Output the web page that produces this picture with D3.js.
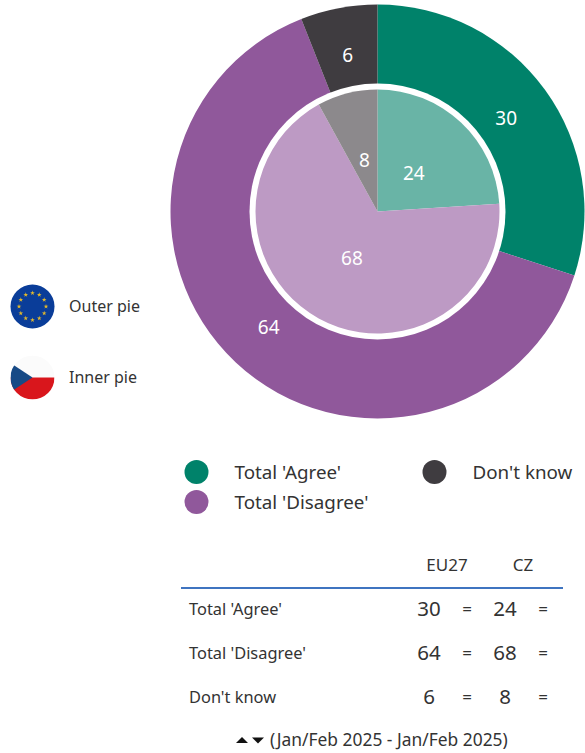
<!DOCTYPE html>
<html>
<head>
<meta charset="utf-8">
<script src="https://cdn.jsdelivr.net/npm/d3@7"></script>
<style>
  html, body { margin: 0; padding: 0; background: #fff; }
  text { font-family: "Noto Sans", sans-serif; fill: #333; }
</style>
</head>
<body>
<div id="chart"></div>
<script>
// Chart data
const categories = ["Total 'Agree'", "Total 'Disagree'", "Don't know"];
const eu27 = [30, 64, 6];
const cz = [24, 68, 8];
const changes = ["=", "=", "="];
const outerColors = ["#00826a", "#90589b", "#3f3c40"];
const innerColors = ["#69b4a6", "#bd9ac4", "#8c898c"];
const columns = ["EU27", "CZ"];
const pieNames = ["Outer pie", "Inner pie"];
const footnote = "(Jan/Feb 2025 - Jan/Feb 2025)";

const w = 585;
const h = 753;
const cx = 377.5; // pie centre
const cy = 211.5;

const svg = d3.select("#chart").append("svg").attr("width", w).attr("height", h).style("display", "block");

// Pies
const pie = d3.pie().sort(null);
const outerArc = d3.arc().innerRadius(0).outerRadius(207);
const innerArc = d3.arc().innerRadius(0).outerRadius(122);

const pies = svg.append("g").attr("transform", `translate(${cx},${cy})`);

pies.selectAll(".outer")
  .data(pie(eu27))
  .enter()
  .append("path")
  .attr("class", "outer")
  .attr("d", outerArc)
  .attr("fill", (d, i) => outerColors[i]);

pies.append("circle").attr("r", 128).attr("fill", "#fff");

pies.selectAll(".inner")
  .data(pie(cz))
  .enter()
  .append("path")
  .attr("class", "inner")
  .attr("d", innerArc)
  .attr("fill", (d, i) => innerColors[i]);

// Slice labels
const outerLabelArc = d3.arc().innerRadius(159).outerRadius(159);
const innerLabelArc = d3.arc().innerRadius(53).outerRadius(53);

pies.selectAll(".outer-label")
  .data(pie(eu27))
  .enter()
  .append("text")
  .attr("class", "outer-label")
  .attr("transform", (d) => `translate(${outerLabelArc.centroid(d)})`)
  .attr("text-anchor", "middle")
  .attr("dy", "0.36em")
  .style("fill", "#fff")
  .style("font-size", "19px")
  .text((d) => d.data);

pies.selectAll(".inner-label")
  .data(pie(cz))
  .enter()
  .append("text")
  .attr("class", "inner-label")
  .attr("transform", (d) => `translate(${innerLabelArc.centroid(d)})`)
  .attr("text-anchor", "middle")
  .attr("dy", "0.36em")
  .style("fill", "#fff")
  .style("font-size", "19px")
  .text((d) => d.data);

// EU flag
const euFlag = svg.append("g").attr("transform", "translate(32.5,306.5)");
euFlag.append("circle").attr("r", 22).attr("fill", "#0a3d99");
const star = d3.symbol().type(d3.symbolStar).size(7);
euFlag.selectAll("path")
  .data(d3.range(12))
  .enter()
  .append("path")
  .attr("d", star)
  .attr("fill", "#e3b92c")
  .attr("transform", (d) => {
    const a = (d * Math.PI) / 6;
    return `translate(${13.5 * Math.sin(a)},${-13.5 * Math.cos(a)})`;
  });

// Czech flag
const defs = svg.append("defs");
defs.append("clipPath").attr("id", "flagClip").append("circle").attr("r", 22);
const czFlag = svg.append("g").attr("transform", "translate(32.5,377.5)").attr("clip-path", "url(#flagClip)");
czFlag.append("rect").attr("x", -22).attr("y", -22).attr("width", 44).attr("height", 22).attr("fill", "#fbfbfb");
czFlag.append("rect").attr("x", -22).attr("y", 0).attr("width", 44).attr("height", 22).attr("fill", "#d9161c");
czFlag.append("path").attr("d", "M-22,-14.5L0,0L-22,14.5Z").attr("fill", "#174a86");

svg.selectAll(".pie-name")
  .data(pieNames)
  .enter()
  .append("text")
  .attr("class", "pie-name")
  .attr("x", 69)
  .attr("y", (d, i) => 312 + i * 71)
  .style("font-size", "16px")
  .text((d) => d);

// Legend
const legendPos = [[196.5, 472], [196.5, 502], [434.5, 472]];
const legend = svg.selectAll(".legend")
  .data(categories)
  .enter()
  .append("g")
  .attr("class", "legend")
  .attr("transform", (d, i) => `translate(${legendPos[i]})`);
legend.append("circle").attr("r", 12).attr("fill", (d, i) => outerColors[i]);
legend.append("text")
  .attr("x", 38)
  .attr("y", 7)
  .style("font-size", "18.8px")
  .text((d) => d);

// Table
const table = svg.append("g");
table.selectAll(".col")
  .data(columns)
  .enter()
  .append("text")
  .attr("class", "col")
  .attr("x", (d, i) => [447, 523][i])
  .attr("y", 571)
  .attr("text-anchor", "middle")
  .style("font-size", "17px")
  .text((d) => d);

table.append("rect").attr("x", 181).attr("y", 587).attr("width", 382).attr("height", 2).attr("fill", "#3f74c0");

const rowY = d3.scalePoint().domain(categories).range([609, 697]);

table.selectAll(".row-label")
  .data(categories)
  .enter()
  .append("text")
  .attr("class", "row-label")
  .attr("x", 189)
  .attr("y", (d) => rowY(d))
  .attr("dy", "0.36em")
  .style("font-size", "16.4px")
  .text((d) => d);

const colX = [429, 505];
[eu27, cz].forEach((vals, c) => {
  table.selectAll(".val" + c)
    .data(vals)
    .enter()
    .append("text")
    .attr("class", "val" + c)
    .attr("x", colX[c])
    .attr("y", (d, i) => rowY(categories[i]))
    .attr("dy", "0.36em")
    .attr("text-anchor", "middle")
    .style("font-size", "20.5px")
    .text((d) => d);
  table.selectAll(".chg" + c)
    .data(changes)
    .enter()
    .append("text")
    .attr("class", "chg" + c)
    .attr("x", colX[c] + 38)
    .attr("y", (d, i) => rowY(categories[i]))
    .attr("dy", "0.36em")
    .attr("text-anchor", "middle")
    .style("font-size", "17px")
    .text((d) => d);
});

// Footnote with the up and down arrows
const arrow = d3.symbol().type(d3.symbolTriangle).size(34);
svg.append("path").attr("d", arrow).attr("transform", "translate(242,741) scale(1.35,0.8)").attr("fill", "#111");
svg.append("path").attr("d", arrow).attr("transform", "translate(258,739.5) scale(1.35,-0.8)").attr("fill", "#111");
svg.append("text")
  .attr("x", 270)
  .attr("y", 746)
  .style("font-size", "17.4px")
  .text(footnote);
</script>
</body>
</html>
